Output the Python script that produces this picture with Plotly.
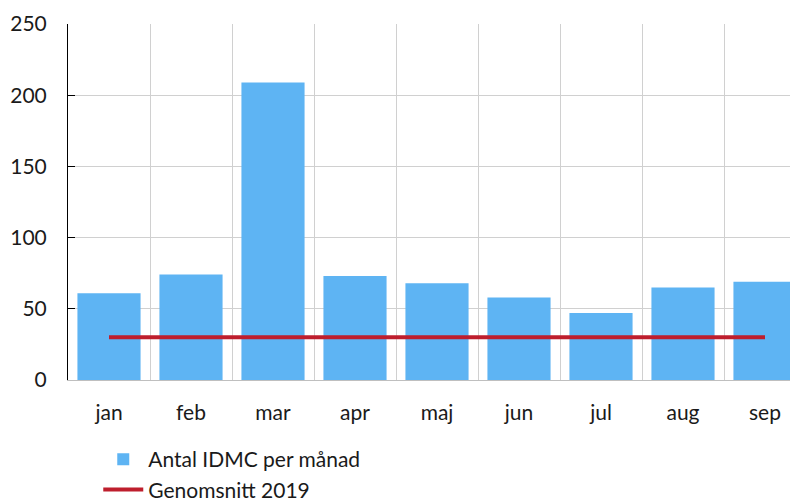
import plotly.graph_objects as go

months = ["jan", "feb", "mar", "apr", "maj", "jun", "jul", "aug", "sep"]
idmc = [61, 74, 209, 73, 68, 58, 47, 65, 69]
avg2019 = [30] * len(months)
yticks = [0, 50, 100, 150, 200, 250]

xpos = list(range(len(months)))
font_family = "Lato, 'Open Sans', sans-serif"

fig = go.Figure()
fig.add_trace(go.Bar(
    x=xpos, y=idmc, name="Antal IDMC per månad",
    marker=dict(color="#5EB4F3", line=dict(width=0)),
))
fig.add_trace(go.Scatter(
    x=xpos, y=avg2019, name="Genomsnitt 2019", mode="lines",
    line=dict(color="#BE1E2D", width=4),
))

fig.update_layout(
    width=798, height=496,
    margin=dict(l=60, r=0, t=16, b=124),
    plot_bgcolor="white", paper_bgcolor="white",
    font=dict(family=font_family, size=21, color="#1a1a1a"),
    bargap=0.23,
    showlegend=True,
    legend=dict(
        orientation="v", xref="paper", yref="container",
        x=0.041, xanchor="left", y=0.131, yanchor="top",
        font=dict(size=21), itemwidth=40, tracegroupgap=0,
    ),
)
fig.update_xaxes(
    tickmode="array", tickvals=xpos, ticktext=months,
    range=[-0.5, len(months) - 0.5], automargin=False,
    showgrid=False, ticks="", zeroline=False, ticklabelstandoff=14,
    showline=True, linecolor="#BFBFBF", linewidth=1,
    minor=dict(tick0=0.5, dtick=1, showgrid=True, gridcolor="#D0D0D0", gridwidth=1, ticks=""),
)
fig.update_yaxes(
    range=[0, 250], tickmode="array", tickvals=yticks, automargin=False,
    showgrid=True, gridcolor="#D0D0D0", gridwidth=1, ticklabelstandoff=16,
    zeroline=False, showline=True, linecolor="#000000", linewidth=1,
    ticks="inside", ticklen=7, tickcolor="#000000",
)

fig.write_html("out.html")
